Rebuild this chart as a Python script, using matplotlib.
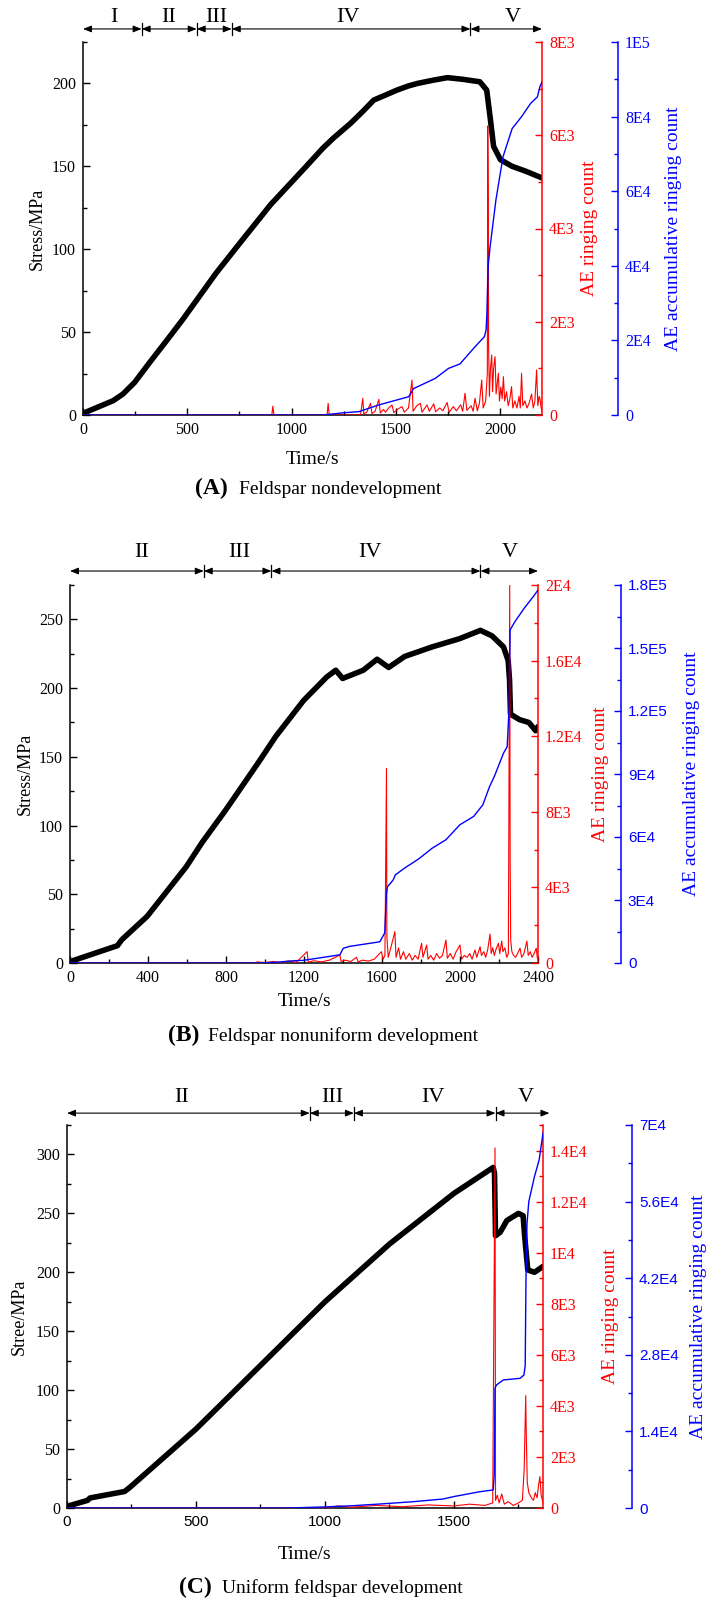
import numpy as np
import matplotlib
matplotlib.use("Agg")
import matplotlib.pyplot as plt
from matplotlib.ticker import MultipleLocator, FuncFormatter
from matplotlib.transforms import blended_transform_factory

SERIF = "Liberation Serif"
SANS = "Liberation Sans"

# ---------------- Panel A data ----------------
A_stress_t = [0, 144, 191, 247, 319, 399, 478, 558, 638, 760, 900, 1070, 1150, 1200, 1283, 1340, 1394, 1450, 1505,
              1560, 1603, 1680, 1747, 1820, 1902, 1935, 1951, 1968, 2001, 2057, 2123, 2200]
A_stress_v = [1, 8.6, 12.6, 19.6, 31.6, 44.6, 57.6, 71.6, 85.6, 105, 127, 150, 161, 167, 176, 183, 190, 193, 196,
              198.5, 200, 202, 203.5, 202.5, 201, 196, 180, 162, 154, 150, 147, 143]
A_cum_t = [0, 1150, 1250, 1322, 1418, 1561, 1585, 1688, 1752, 1807, 1879, 1924, 1932, 1936, 1942, 1951, 1979, 2013, 2057, 2101, 2145, 2178, 2190, 2200]
A_cum_v = [0, 0, 600, 900, 2700, 4900, 7100, 9800, 12500, 13700, 18300, 21000, 22800, 27300, 40000, 45000, 57600, 69200, 76800, 79900, 83500, 85300, 88000, 89300]
A_ae_t = [0, 905, 910, 915, 1170, 1175, 1180, 1330, 1341, 1346, 1360, 1378, 1385, 1400, 1418, 1425, 1440, 1450, 1465, 1481,
          1490, 1510, 1529, 1540, 1560, 1577, 1582, 1600, 1617, 1625, 1649, 1660, 1681, 1690, 1710, 1725, 1745, 1755, 1775, 1790,
          1810, 1820, 1831, 1840, 1860, 1870, 1879, 1890, 1900, 1911, 1918, 1930, 1938, 1940, 1942, 1944, 1948, 1953, 1959, 1963,
          1968, 1975, 1980, 1986, 1991, 1996, 2003, 2009, 2015, 2021, 2030, 2038, 2046, 2054, 2060, 2070, 2080, 2090, 2096, 2102,
          2108, 2118, 2128, 2138, 2150, 2158, 2166, 2174, 2180, 2186, 2190, 2196, 2200]
A_ae_v = [0, 0, 190, 0, 0, 250, 0, 0, 357, 20, 60, 250, 30, 80, 336, 40, 120, 60, 150, 215,
          50, 130, 180, 60, 150, 750, 80, 200, 250, 60, 215, 80, 240, 70, 150, 90, 270, 60, 180, 90,
          220, 80, 465, 100, 200, 80, 357, 90, 250, 750, 150, 300, 900, 6200, 4800, 1466, 400, 1000, 1287, 500,
          1000, 1250, 450, 700, 894, 300, 600, 350, 822, 300, 500, 200, 350, 608, 150, 300, 150, 400, 150, 894,
          200, 300, 150, 250, 450, 150, 300, 965, 200, 400, 357, 150, 80]
A_bounds = [0, 281, 545, 713, 1857, 2200]
A_label_x = [150, 409, 641, 1271, 2061]
A_labels = ["I", "II", "III", "IV", "V"]

# ---------------- Panel B data ----------------
B_stress_t = [0, 243, 266, 396, 596, 679, 797, 962, 1056, 1198, 1316, 1363, 1398, 1504, 1575, 1634, 1716, 1858, 1999, 2105,
              2164, 2223, 2247, 2254, 2259, 2306, 2353, 2388, 2400]
B_stress_v = [1, 12.6, 17, 34, 70, 88, 111, 145, 165, 191, 208, 213, 207, 213, 221, 215, 223, 230, 236, 242,
              238, 230, 220, 206, 181, 177, 175, 169, 172]
B_cum_t = [0, 962, 1056, 1127, 1198, 1384, 1401, 1433, 1589, 1614, 1623, 1628, 1657, 1669, 1716, 1787, 1858, 1928, 1999, 2070,
           2117, 2152, 2176, 2223, 2242, 2252, 2257, 2282, 2329, 2376, 2400]
B_cum_v = [0, 0, 300, 950, 1270, 3900, 7000, 7900, 10100, 14300, 33200, 36300, 39500, 42000, 45200, 49500, 54700, 58700, 65800, 69800,
           75300, 84100, 88800, 99900, 103000, 122000, 158600, 162600, 168900, 174500, 177600]
B_ae_t = [0, 950, 960, 1000, 1040, 1080, 1120, 1160, 1216, 1222, 1250, 1290, 1330, 1384, 1390, 1410, 1440, 1469, 1478, 1500,
          1530, 1560, 1597, 1605, 1615, 1623, 1625, 1632, 1645, 1666, 1672, 1685, 1695, 1710, 1722, 1740, 1755, 1770, 1785, 1803,
          1810, 1829, 1836, 1850, 1865, 1880, 1895, 1910, 1928, 1935, 1950, 1965, 1980, 2000, 2008, 2022, 2036, 2050, 2062, 2077,
          2086, 2103, 2110, 2122, 2132, 2142, 2154, 2160, 2168, 2176, 2184, 2197, 2204, 2214, 2220, 2230, 2240, 2248, 2255, 2257,
          2260, 2266, 2275, 2285, 2295, 2308, 2316, 2328, 2343, 2350, 2360, 2370, 2380, 2391, 2396, 2400]
B_ae_v = [0, 0, 60, 20, 80, 30, 100, 40, 600, 40, 120, 60, 150, 420, 80, 150, 80, 300, 60, 150,
          100, 200, 600, 200, 400, 10300, 1400, 300, 800, 1660, 300, 800, 200, 600, 200, 500, 150, 400, 200, 1040,
          300, 950, 200, 400, 150, 500, 250, 400, 1220, 250, 500, 200, 600, 950, 200, 400, 300, 500, 200, 690,
          300, 860, 400, 600, 300, 700, 1535, 500, 800, 400, 700, 1040, 500, 1160, 600, 800, 300, 500, 20000, 5640,
          1200, 600, 400, 300, 500, 780, 300, 500, 1160, 400, 600, 300, 500, 780, 300, 200]
B_bounds = [0, 686, 1033, 2105, 2400]
B_label_x = [368, 868, 1540, 2254]
B_labels = ["II", "III", "IV", "V"]

# ---------------- Panel C data ----------------
C_stress_t = [0, 80, 89, 223, 241, 500, 750, 1000, 1250, 1500, 1652, 1657, 1661, 1679, 1705, 1750, 1768, 1773, 1786, 1812, 1845]
C_stress_v = [1.4, 6.5, 8.5, 14, 17, 67, 121, 175, 224, 267, 289, 284, 231, 234, 244, 250, 248, 233, 202, 200, 205]
C_cum_t = [0, 860, 1000, 1100, 1213, 1342, 1459, 1497, 1601, 1652, 1656, 1659, 1665, 1691, 1756, 1771, 1776, 1779, 1783, 1790, 1812, 1830, 1845]
C_cum_v = [0, 0, 200, 400, 730, 1150, 1650, 2070, 2980, 3300, 6000, 21900, 22500, 23400, 23700, 24300, 26000, 41700, 52000, 56000, 60600, 63600, 68500]
C_ae_t = [0, 1000, 1050, 1100, 1200, 1300, 1400, 1500, 1560, 1620, 1650, 1659, 1661, 1668, 1675, 1685, 1695, 1710, 1730, 1750,
          1765, 1772, 1778, 1780, 1784, 1790, 1800, 1808, 1815, 1822, 1828, 1833, 1838, 1845]
C_ae_v = [0, 0, 80, 30, 100, 50, 120, 80, 150, 100, 200, 14100, 300, 500, 200, 550, 150, 250, 100, 200,
          300, 1500, 4400, 3000, 1000, 600, 400, 300, 600, 400, 900, 1230, 500, 200]
C_bounds = [0, 941, 1112, 1661, 1870]
C_label_x = [446, 1027, 1420, 1777]
C_labels = ["II", "III", "IV", "V"]

W, H = 722, 1602
fig = plt.figure(figsize=(W / 100, H / 100), dpi=100)


def efmt(v, pos=None):
    if abs(v) < 1e-9:
        return "0"
    e = int(np.floor(np.log10(abs(v)) + 1e-9))
    m = v / 10 ** e
    return "%sE%d" % (("%.2f" % m).rstrip("0").rstrip("."), e)


def box(l, r, t, b):
    return [l / W, 1 - b / H, (r - l) / W, (b - t) / H]


def panel(rect, xlim, xmaj, xmin, ylim, ymaj, ymin, rlim, rmaj, rmin, blim, bmaj, bmin,
          st_t, st_v, ae_t, ae_v, cu_t, cu_v, blue_out, ylabel, lab_pos, xsans, bsans,
          bounds, lab_x, labs, y_arrow, y_text):
    ax = fig.add_axes(rect)
    axr = ax.twinx()
    axb = ax.twinx()
    ax.plot(st_t, st_v, color="black", lw=4.0, solid_joinstyle="round", solid_capstyle="round", zorder=3)
    axr.plot(ae_t, ae_v, color="red", lw=0.8)
    axb.plot(cu_t, cu_v, color="blue", lw=1.0)
    ax.set_xlim(*xlim)
    ax.set_ylim(*ylim)
    axr.set_ylim(*rlim)
    axb.set_ylim(*blim)
    for a in (ax, axr, axb):
        a.spines["top"].set_visible(False)
    ax.spines["right"].set_visible(False)
    axr.spines["left"].set_visible(False)
    axb.spines["left"].set_visible(False)
    axr.spines["bottom"].set_visible(False)
    axb.spines["bottom"].set_visible(False)
    axr.spines["right"].set_color("red")
    axb.spines["right"].set_color("blue")
    axb.spines["right"].set_position(("outward", blue_out * 0.72))
    for s in ("left", "bottom"):
        ax.spines[s].set_linewidth(1.1)
    axr.spines["right"].set_linewidth(1.1)
    axb.spines["right"].set_linewidth(1.1)

    ax.xaxis.set_major_locator(MultipleLocator(xmaj))
    ax.xaxis.set_minor_locator(MultipleLocator(xmin))
    ax.yaxis.set_major_locator(MultipleLocator(ymaj))
    ax.yaxis.set_minor_locator(MultipleLocator(ymin))
    axr.yaxis.set_major_locator(MultipleLocator(rmaj))
    axr.yaxis.set_minor_locator(MultipleLocator(rmin))
    axb.yaxis.set_major_locator(MultipleLocator(bmaj))
    axb.yaxis.set_minor_locator(MultipleLocator(bmin))
    axr.yaxis.set_major_formatter(FuncFormatter(efmt))
    axb.yaxis.set_major_formatter(FuncFormatter(efmt))

    ax.tick_params(which="both", direction="in", width=1.0, labelsize=11.5, pad=5)
    ax.tick_params(which="major", length=5)
    ax.tick_params(which="minor", length=3)
    axr.tick_params(which="both", direction="in", width=1.0, colors="red", labelsize=11.5, pad=5)
    axr.tick_params(which="major", length=5)
    axr.tick_params(which="minor", length=3)
    axb.tick_params(which="both", direction="in", width=1.0, colors="blue", labelsize=11.5, pad=5)
    axb.tick_params(which="major", length=5)
    axb.tick_params(which="minor", length=3)
    for lab in ax.get_yticklabels():
        lab.set_family(SERIF)
    for lab in ax.get_xticklabels():
        lab.set_family(SANS if xsans else SERIF)
        if xsans:
            lab.set_fontsize(11)
    for lab in axr.get_yticklabels():
        lab.set_family(SERIF)
    for lab in axb.get_yticklabels():
        lab.set_family(SANS if bsans else SERIF)
        if bsans:
            lab.set_fontsize(11)

    ax.set_ylabel(ylabel, family=SERIF, fontsize=13)
    axr.set_ylabel("AE ringing count", family=SERIF, fontsize=14, color="red")
    axb.set_ylabel("AE accumulative ringing count", family=SERIF, fontsize=14, color="blue")
    ax.set_xlabel("Time/s", family=SERIF, fontsize=14)
    ax.yaxis.set_label_coords(lab_pos[0], 0.5)
    axr.yaxis.set_label_coords(lab_pos[1], 0.5)
    axb.yaxis.set_label_coords(lab_pos[2], 0.5)
    ax.xaxis.set_label_coords(0.5, lab_pos[3])

    trans = blended_transform_factory(ax.transData, ax.transAxes)
    for a, b in zip(bounds[:-1], bounds[1:]):
        ax.annotate("", xy=(b, y_arrow), xytext=(a, y_arrow), xycoords=trans, textcoords=trans,
                    arrowprops=dict(arrowstyle="<|-|>,head_length=0.5,head_width=0.2",
                                    color="black", lw=0.8, shrinkA=0, shrinkB=0),
                    annotation_clip=False)
    for b in bounds[1:-1]:
        ax.plot([b, b], [y_arrow - 0.017, y_arrow + 0.017], transform=trans, color="black",
                lw=0.9, clip_on=False)
    for x, s in zip(lab_x, labs):
        ax.text(x, y_text, s, transform=trans, ha="center", va="center", fontsize=16, family=SERIF)
    return ax


panel(box(83, 542, 42, 415), (0, 2200), 500, 250, (0, 225), 50, 25, (0, 8000), 2000, 1000,
      (0, 100000), 20000, 10000, A_stress_t, A_stress_v, A_ae_t, A_ae_v, A_cum_t, A_cum_v,
      76, "Stress/MPa", (-0.081, 1.085, 1.268, -0.097), False, False,
      A_bounds, A_label_x, A_labels, 1.035, 1.066)

panel(box(70, 538, 585, 963), (0, 2400), 400, 200, (0, 275), 50, 25, (0, 20000), 4000, 2000,
      (0, 180000), 30000, 15000, B_stress_t, B_stress_v, B_ae_t, B_ae_v, B_cum_t, B_cum_v,
      83, "Stress/MPa", (-0.077, 1.115, 1.31, -0.079), False, True,
      B_bounds, B_label_x, B_labels, 1.037, 1.085)

panel(box(67, 543, 1125, 1508), (0, 1845), 500, 250, (0, 325), 50, 25, (0, 15000), 2000, 1000,
      (0, 70000), 14000, 7000, C_stress_t, C_stress_v, C_ae_t, C_ae_v, C_cum_t, C_cum_v,
      89, "Stree/MPa", (-0.083, 1.124, 1.309, -0.099), True, True,
      C_bounds, C_label_x, C_labels, 1.031, 1.071)

captions = [("(A)", "Feldspar nondevelopment", 211, 239, 488),
            ("(B)", "Feldspar nonuniform development", 184, 208, 1035),
            ("(C)", "Uniform feldspar development", 195, 222, 1587)]
for tag, txt, xc, xl, yc in captions:
    fig.text(xc / W, 1 - yc / H, tag, ha="center", va="center", fontsize=17,
             fontweight="bold", family=SERIF)
    fig.text(xl / W, 1 - (yc + 1) / H, txt, ha="left", va="center", fontsize=14, family=SERIF)

fig.savefig("out.png", dpi=100)
